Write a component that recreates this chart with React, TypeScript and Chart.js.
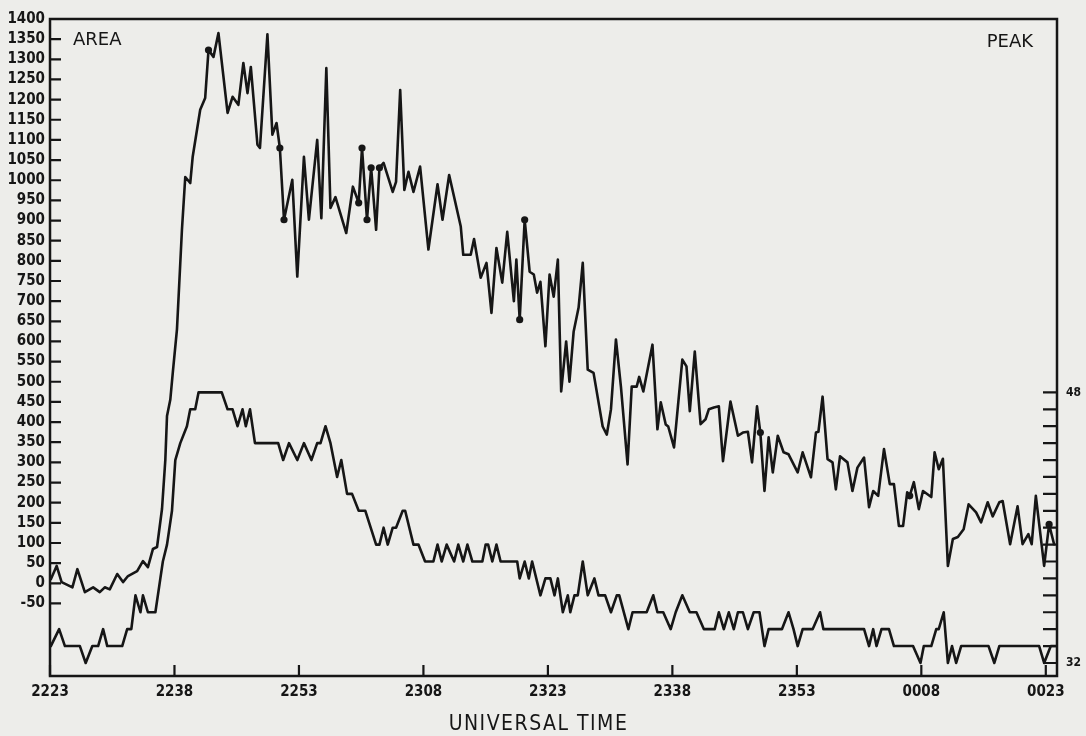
import { useEffect, useRef } from 'react';
import { Chart, registerables } from 'chart.js';

Chart.register(...registerables);

// Minutes after 22:23 UT for each AREA sample, and the AREA value at that time
const areaTimes = [
  0.1, 0.8, 1.4, 2.7, 3.3, 4.2, 5.2, 6.0, 6.6, 7.2, 8.1, 8.8, 9.4, 10.5, 11.2, 11.8, 12.4, 12.9,
  13.5, 13.9, 14.1, 14.5, 14.8, 15.3, 15.9, 16.3, 16.9, 17.2, 18.1, 18.7, 19.1, 19.7, 20.3,
  21.4, 22.0, 22.7, 23.3, 23.8, 24.2, 25.0, 25.3, 26.2, 26.8, 27.3, 27.7, 28.2, 29.2, 29.8,
  30.6, 31.2, 32.2, 32.7, 33.3, 33.8, 34.4, 35.7, 36.5, 37.2, 37.6, 38.2, 38.7, 39.3, 39.7,
  40.2, 41.3, 41.7, 42.2, 42.7, 43.2, 43.8, 44.6, 45.6, 46.7, 47.3, 48.1, 49.5, 49.8, 50.7,
  51.1, 51.9, 52.6, 53.2, 53.8, 54.5, 55.1, 55.9, 56.2, 56.6, 57.2, 57.8, 58.3, 58.7, 59.1,
  59.7, 60.2, 60.7, 61.2, 61.6, 62.2, 62.6, 63.1, 63.7, 64.2, 64.8, 65.5, 66.6, 67.1, 67.6,
  68.2, 68.8, 69.6, 70.1, 70.7, 71.0, 71.5, 72.6, 73.2, 73.6, 74.2, 74.5, 75.2, 76.2, 76.7,
  77.1, 77.7, 78.4, 79.0, 79.4, 80.0, 80.6, 81.1, 82.0, 82.9, 83.5, 84.1, 84.6, 85.2, 85.6,
  86.1, 86.6, 87.1, 87.7, 88.4, 89.0, 90.1, 90.7, 91.7, 92.3, 92.6, 93.1, 93.7, 94.3, 94.7,
  95.2, 96.1, 96.7, 97.3, 98.1, 98.7, 99.2, 99.8, 100.5, 101.2, 101.7, 102.3, 102.8, 103.3,
  103.6, 104.1, 104.7, 105.2, 106.2, 106.6, 107.1, 107.6, 108.2, 108.8, 109.4, 110.1, 110.7,
  111.6, 112.2, 113.0, 113.6, 114.4, 114.8, 115.7, 116.6, 117.2, 117.9, 118.3, 118.8, 119.8,
  120.4, 121.0,
];
const areaValues = [
  10, 43, 3, -10, 35, -22, -10, -22, -10, -15, 23, 3, 18, 30, 55, 40, 85, 90,
  185, 307, 415, 456, 523, 630, 877, 1008, 993, 1059, 1175, 1204, 1323, 1306, 1365,
  1167, 1207, 1187, 1291, 1216, 1281, 1088, 1080, 1362, 1113, 1142, 1080, 902, 1001, 761,
  1058, 902, 1100, 906, 1278, 931, 958, 869, 984, 944, 1080, 902, 1031, 877, 1031,
  1043, 971, 996, 1224, 976, 1021, 971, 1034, 828, 990, 902, 1013, 885, 815, 815,
  854, 758, 795, 671, 832, 746, 872, 700, 803, 654, 902, 773, 766, 721, 748,
  588, 766, 711, 803, 476, 600, 500, 624, 684, 795, 530, 522, 389, 369, 432,
  605, 488, 295, 488, 488, 512, 476, 592, 382, 449, 394, 389, 337, 555, 538,
  427, 575, 395, 407, 432, 436, 439, 303, 451, 366, 374, 376, 300, 439, 374,
  229, 362, 275, 366, 325, 320, 275, 325, 263, 374, 376, 463, 308, 300, 233,
  315, 300, 229, 287, 312, 189, 229, 217, 333, 246, 246, 142, 142, 226,
  217, 251, 184, 229, 214, 325, 283, 309, 43, 110, 115, 134, 196,
  176, 151, 201, 166, 201, 204, 97, 191, 97, 122, 97, 217, 43,
  146, 97,
];
// AREA samples flagged with a dot
const areaMarkedTimes = [19.1, 27.7, 28.2, 37.2, 37.6, 38.2, 38.7, 39.7, 56.6, 57.2, 85.6, 103.6, 120.4];

// Minutes after 22:23 UT for each PEAK sample, and the PEAK value at that time
const peakTimes = [
  0.1, 1.1, 1.8, 3.6, 4.3, 5.1, 5.8, 6.4, 6.9, 8.7, 9.3, 9.8, 10.3, 10.9, 11.2, 11.8, 12.7,
  13.3, 13.6, 14.1, 14.7, 15.1, 15.7, 16.5, 16.9, 17.5, 17.9, 20.7, 21.4, 22.0, 22.6, 23.2,
  23.6, 24.1, 24.7, 27.5, 28.1, 28.8, 29.8, 30.6, 31.5, 32.2, 32.6, 33.2, 33.8, 34.6, 35.1,
  35.8, 36.4, 37.2, 38.0, 39.3, 39.7, 40.2, 40.7, 41.3, 41.7, 42.5, 42.8, 43.8, 44.4, 45.2,
  46.2, 46.7, 47.2, 47.8, 48.7, 49.2, 49.8, 50.3, 50.9, 52.1, 52.5, 52.8, 53.3, 53.8, 54.3,
  56.3, 56.6, 57.2, 57.7, 58.1, 59.1, 59.7, 60.3, 60.8, 61.2, 61.8, 62.4, 62.7, 63.2, 63.6,
  64.2, 64.8, 65.6, 66.1, 66.9, 67.6, 68.3, 68.6, 69.7, 70.2, 71.9, 72.7, 73.2, 73.9, 74.8,
  75.4, 76.2, 77.1, 77.9, 78.8, 80.1, 80.6, 81.2, 81.8, 82.4, 82.9, 83.5, 84.1, 84.8, 85.5,
  86.1, 86.6, 88.2, 89.0, 89.6, 90.1, 90.7, 91.9, 92.8, 93.2, 98.1, 98.7, 99.2, 99.6, 100.2,
  101.1, 101.7, 104.0, 104.9, 105.3, 106.2, 106.8, 107.1, 107.7, 108.2, 108.7, 109.2, 109.8,
  113.1, 113.8, 114.4, 119.2, 119.8, 120.6, 121.2,
];
const peakValues = [
  33, 34, 33, 33, 32, 33, 33, 34, 33, 33, 34, 34, 36, 35, 36, 35, 35,
  37, 38, 39, 41, 44, 45, 46, 47, 47, 48, 48, 47, 47, 46, 47,
  46, 47, 45, 45, 44, 45, 44, 45, 44, 45, 45, 46, 45, 43, 44,
  42, 42, 41, 41, 39, 39, 40, 39, 40, 40, 41, 41, 39, 39, 38,
  38, 39, 38, 39, 38, 39, 38, 39, 38, 38, 39, 39, 38, 39, 38,
  38, 37, 38, 37, 38, 36, 37, 37, 36, 37, 35, 36, 35, 36, 36,
  38, 36, 37, 36, 36, 35, 36, 36, 34, 35, 35, 36, 35, 35, 34,
  35, 36, 35, 35, 34, 34, 35, 34, 35, 34, 35, 35, 34, 35, 35,
  33, 34, 34, 35, 34, 33, 34, 34, 35, 34, 34, 33, 34, 33, 34,
  34, 33, 33, 32, 33, 33, 34, 34, 35, 32, 33, 32, 33,
  33, 32, 33, 33, 32, 33, 33,
];

// Axis ticks
const timeTickMinutes = [0, 15, 30, 45, 60, 75, 90, 105, 120];
const timeTickLabels = ['2223', '2238', '2253', '2308', '2323', '2338', '2353', '0008', '0023'];
const areaTickValues = [
  -50, 0, 50, 100, 150, 200, 250, 300, 350, 400, 450, 500, 550, 600, 650, 700, 750,
  800, 850, 900, 950, 1000, 1050, 1100, 1150, 1200, 1250, 1300, 1350, 1400,
];
const peakTickValues = [32, 33, 34, 35, 36, 37, 38, 39, 40, 41, 42, 43, 44, 45, 46, 47, 48];
const peakLabelledTicks = [32, 48];

const INK = '#161616';
const PAPER = '#ededea';
const TICK_FONT = '"DejaVu Sans Condensed", "DejaVu Sans", sans-serif';

export default function App() {
  const canvasRef = useRef<HTMLCanvasElement>(null);

  useEffect(() => {
    const canvas = canvasRef.current;
    if (!canvas) return;

    // Plot frame, inward tick marks and the corner captions
    const plotterFrame = {
      id: 'plotterFrame',
      beforeDatasetsDraw(chart: any) {
        const { ctx, chartArea, scales } = chart;
        const { left, right, top, bottom } = chartArea;
        ctx.save();
        ctx.strokeStyle = INK;
        ctx.lineWidth = 2.5;
        ctx.strokeRect(left, top, right - left, bottom - top);

        ctx.lineWidth = 2.2;
        ctx.beginPath();
        for (const t of scales.yArea.ticks) {
          const y = scales.yArea.getPixelForValue(t.value);
          ctx.moveTo(left, y);
          ctx.lineTo(left + 11, y);
        }
        for (const t of scales.yPeak.ticks) {
          const y = scales.yPeak.getPixelForValue(t.value);
          ctx.moveTo(right - 14, y);
          ctx.lineTo(right, y);
        }
        for (const t of scales.x.ticks) {
          const x = scales.x.getPixelForValue(t.value);
          ctx.moveTo(x, bottom);
          ctx.lineTo(x, bottom - 11);
        }
        ctx.stroke();
        ctx.restore();
      },
      afterDraw(chart: any) {
        const { ctx, chartArea } = chart;
        const { left, right, top } = chartArea;
        ctx.save();
        ctx.fillStyle = INK;
        ctx.textBaseline = 'alphabetic';
        ctx.font = '18px "DejaVu Sans", sans-serif';
        ctx.textAlign = 'left';
        ctx.fillText('AREA', left + 23, top + 26);
        ctx.textAlign = 'right';
        ctx.fillText('PEAK', right - 24, top + 28);
        ctx.font = '21px "DejaVu Sans Condensed", "DejaVu Sans", sans-serif';
        ctx.textAlign = 'center';
        (ctx as any).letterSpacing = '1.5px';
        ctx.fillText('UNIVERSAL TIME', (left + right) / 2 - 15, 730);
        ctx.restore();
      },
    };

    const hiddenGrid = { display: false, drawTicks: false, tickLength: 0 };

    const chart = new Chart(canvas, {
      type: 'line',
      data: {
        datasets: [
          {
            label: 'AREA',
            data: areaTimes.map((x, i) => ({ x, y: areaValues[i] })),
            yAxisID: 'yArea',
            borderColor: INK,
            borderWidth: 2.6,
            borderJoinStyle: 'round',
            borderCapStyle: 'round',
            tension: 0,
            pointRadius: (ctx: any) => (areaMarkedTimes.includes(ctx.raw?.x) ? 3.6 : 0),
            pointBackgroundColor: INK,
            pointBorderWidth: 0,
          },
          {
            label: 'PEAK',
            data: peakTimes.map((x, i) => ({ x, y: peakValues[i] })),
            yAxisID: 'yPeak',
            borderColor: INK,
            borderWidth: 2.6,
            borderJoinStyle: 'round',
            borderCapStyle: 'round',
            tension: 0,
            pointRadius: 0,
          },
        ],
      },
      options: {
        animation: false,
        responsive: false,
        maintainAspectRatio: false,
        layout: { padding: { top: 19, left: 0, right: 0, bottom: 0 } },
        plugins: { legend: { display: false }, tooltip: { enabled: false } },
        scales: {
          x: {
            type: 'linear',
            position: 'bottom',
            min: 0,
            max: 121.35,
            grid: hiddenGrid,
            border: { display: false },
            afterBuildTicks: (s: any) => {
              s.ticks = timeTickMinutes.map((value) => ({ value }));
            },
            afterFit: (s: any) => {
              s.height = 60;
            },
            ticks: {
              autoSkip: false,
              maxRotation: 0,
              padding: 7,
              color: INK,
              font: { family: TICK_FONT, size: 15, weight: 'bold' },
              callback: (v: any) => timeTickLabels[timeTickMinutes.indexOf(Number(v))] ?? '',
            },
          },
          yArea: {
            type: 'linear',
            position: 'left',
            min: -230,
            max: 1400,
            grid: hiddenGrid,
            border: { display: false },
            afterBuildTicks: (s: any) => {
              s.ticks = areaTickValues.map((value) => ({ value }));
            },
            afterFit: (s: any) => {
              s.width = 50;
            },
            ticks: {
              autoSkip: false,
              padding: 5,
              color: INK,
              font: { family: TICK_FONT, size: 15, weight: 'bold' },
              callback: (v: any) => String(v),
            },
          },
          yPeak: {
            type: 'linear',
            position: 'right',
            min: 31.23,
            max: 70.08,
            grid: hiddenGrid,
            border: { display: false },
            afterBuildTicks: (s: any) => {
              s.ticks = peakTickValues.map((value) => ({ value }));
            },
            afterFit: (s: any) => {
              s.width = 29;
            },
            ticks: {
              autoSkip: false,
              padding: 9,
              color: INK,
              font: { family: TICK_FONT, size: 12, weight: 'bold' },
              callback: (v: any) => (peakLabelledTicks.includes(Number(v)) ? String(v) : ''),
            },
          },
        },
      },
      plugins: [plotterFrame],
    } as any);

    return () => chart.destroy();
  }, []);

  return (
    <div
      style={{
        position: 'fixed',
        left: 0,
        top: 0,
        width: 1086,
        height: 736,
        background: PAPER,
      }}
    >
      <canvas ref={canvasRef} width={1086} height={736} style={{ display: 'block' }} />
    </div>
  );
}
